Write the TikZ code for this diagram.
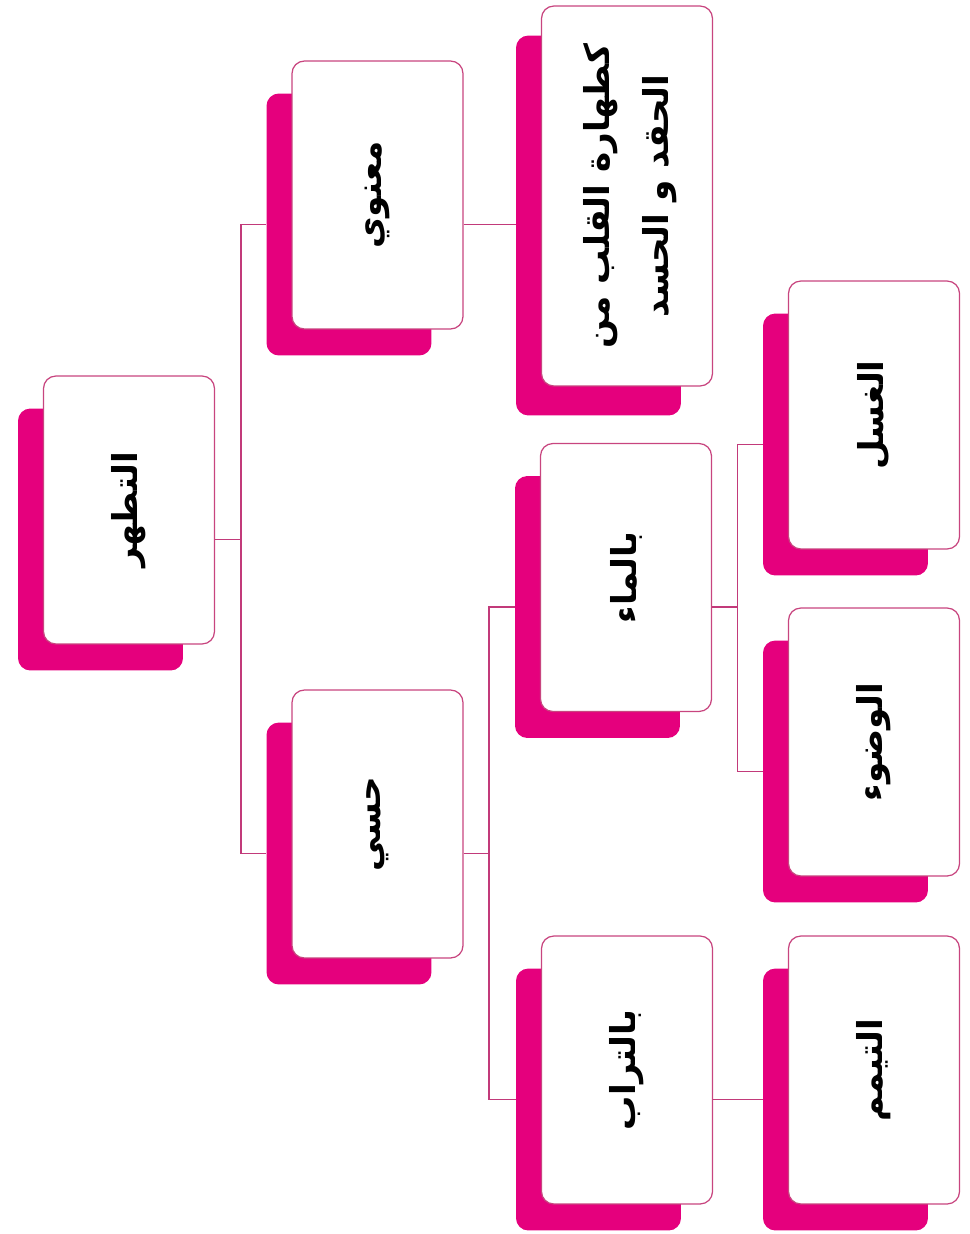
\documentclass[tikz,border=0pt]{standalone}
\usepackage{fontspec}
\newfontfamily\arabicfont[Script=Arabic]{DejaVu Sans}
\TeXXeTstate=1
\usetikzlibrary{calc}
\definecolor{tmagenta}{HTML}{E5007D}
\definecolor{tedge}{HTML}{C8457F}
\definecolor{tline}{HTML}{C23A7A}
% rotated right-to-left label
\newcommand{\artxt}[1]{\rotatebox{90}{\arabicfont\bfseries\beginR #1\endR}}

\begin{document}
\begin{tikzpicture}[
  x=0.02cm,y=-0.02cm,
  font=\fontsize{19.5}{34}\selectfont,
  card/.style={draw=tedge,line width=0.7pt,fill=white,rounded corners=7pt,
               minimum width=3.42cm,minimum height=5.36cm,inner sep=0pt},
  back/.style={fill=tmagenta,rounded corners=7pt,
               minimum width=3.3cm,minimum height=5.24cm,inner sep=0pt},
  tall/.style={minimum height=7.6cm},
  link/.style={draw=tline,line width=1pt},
]
\useasboundingbox (0,0) rectangle (970,1234);

% card with its magenta backing: #1=name #2=x #3=y #4=extra style #5=text
\newcommand{\tcard}[5]{%
  \node[back,#4] (#1S) at (#2-28.5,#3+29.5) {};
  \node[card,#4] (#1) at (#2,#3) {#5};}

% ---------- cards ----------
\tcard{root}{129}{510}{}{\artxt{التطهر}}
\tcard{maan}{377.5}{195}{}{\artxt{معنوي}}
\tcard{hissi}{377.5}{824}{}{\artxt{حسي}}
\tcard{kata}{627}{196}{tall}{\rotatebox{90}{\arabicfont\bfseries
  \begin{tabular}{@{}c@{}}\beginR كطهارة القلب من\endR\\ \beginR الحقد و الحسد\endR\end{tabular}}}
\tcard{bimaa}{626}{577.5}{}{\artxt{بالماء}}
\tcard{biturab}{627}{1070}{}{\artxt{بالتراب}}
\tcard{ghusl}{874}{415}{}{\artxt{الغسل}}
\tcard{wudu}{874}{742}{}{\artxt{الوضوء}}
\tcard{tayam}{874}{1070}{}{\artxt{التيمم}}

% ---------- connectors ----------
\coordinate (f1) at ($(root.east)!.5!(maanS.west)$);
\draw[link] (root.east |- rootS.center) -| (f1 |- maanS.west) -- (maanS.west);
\draw[link] (f1 |- rootS.center) |- (hissiS.west);
\draw[link] (maan.east |- maanS.center) -- (kataS.west |- maanS.center);
\coordinate (f2) at ($(hissi.east)!.5!(bimaaS.west)$);
\draw[link] (hissi.east |- hissiS.center) -| (f2 |- bimaaS.west) -- (bimaaS.west);
\draw[link] (f2 |- hissiS.center) |- (biturabS.west);
\coordinate (f3) at ($(bimaa.east)!.5!(ghuslS.west)$);
\draw[link] (bimaa.east |- bimaaS.center) -| (f3 |- ghuslS.west) -- (ghuslS.west);
\draw[link] (f3 |- bimaaS.center) |- (wuduS.west);
\draw[link] (biturab.east |- biturabS.center) -- (tayamS.west);

\end{tikzpicture}
\end{document}
